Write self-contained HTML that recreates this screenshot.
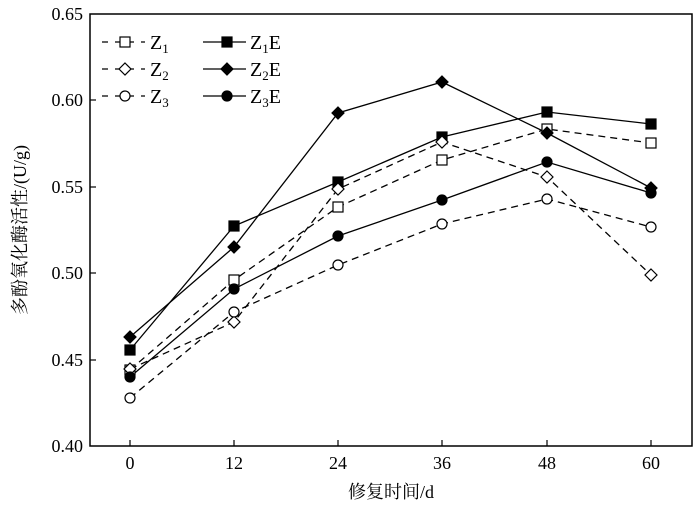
<!DOCTYPE html><html><head><style>body{margin:0;background:#fff}svg{display:block}</style></head><body>
<svg width="700" height="509" xmlns="http://www.w3.org/2000/svg" font-family="Liberation Serif, Noto Serif CJK SC, serif">
<rect x="90" y="14" width="602" height="432" fill="none" stroke="#000" stroke-width="1.5"/>
<g stroke="#000" stroke-width="1.2">
<line x1="130" y1="446" x2="130" y2="440"/><line x1="234" y1="446" x2="234" y2="440"/><line x1="338" y1="446" x2="338" y2="440"/><line x1="442" y1="446" x2="442" y2="440"/><line x1="547" y1="446" x2="547" y2="440"/><line x1="651" y1="446" x2="651" y2="440"/>
<line x1="90" y1="100" x2="96" y2="100"/><line x1="90" y1="187" x2="96" y2="187"/><line x1="90" y1="273" x2="96" y2="273"/><line x1="90" y1="360" x2="96" y2="360"/>
</g>
<g font-size="18" text-anchor="end">
<text x="83" y="20">0.65</text><text x="83" y="106">0.60</text><text x="83" y="193">0.55</text><text x="83" y="279">0.50</text><text x="83" y="366">0.45</text><text x="83" y="452">0.40</text></g>
<g font-size="18" text-anchor="middle">
<text x="130" y="469">0</text><text x="234" y="469">12</text><text x="338" y="469">24</text><text x="442" y="469">36</text><text x="547" y="469">48</text><text x="651" y="469">60</text>
<text x="391" y="498">修复时间/d</text>
<text transform="translate(26,230) rotate(-90)">多酚氧化酶活性/(U/g)</text></g>
<g fill="none" stroke="#000" stroke-width="1.3">
<polyline stroke-dasharray="7,5" points="130,370 234,280 338,207 442,160 547,129 651,143"/>
<polyline points="130,350 234,226 338,182 442,137 547,112 651,124"/>
<polyline stroke-dasharray="7,5" points="130,369 234,322 338,189 442,142 547,177 651,275"/>
<polyline points="130,337 234,247 338,113 442,82 547,133 651,188"/>
<polyline stroke-dasharray="7,5" points="130,398 234,312 338,265 442,224 547,199 651,227"/>
<polyline points="130,377 234,289 338,236 442,200 547,162 651,193"/>
<line x1="102" y1="42" x2="145" y2="42" stroke-dasharray="6,7"/><line x1="102" y1="69" x2="145" y2="69" stroke-dasharray="6,7"/><line x1="102" y1="96" x2="145" y2="96" stroke-dasharray="6,7"/>
<line x1="203" y1="42" x2="246" y2="42"/><line x1="203" y1="69" x2="246" y2="69"/><line x1="203" y1="96" x2="246" y2="96"/>
</g>
<g stroke="#000" stroke-width="1.2">
<g fill="#000"><rect x="125" y="345" width="10" height="10"/><rect x="229" y="221" width="10" height="10"/><rect x="333" y="177" width="10" height="10"/><rect x="437" y="132" width="10" height="10"/><rect x="542" y="107" width="10" height="10"/><rect x="646" y="119" width="10" height="10"/></g>
<g fill="#fff"><rect x="120" y="37" width="10" height="10"/><path d="M125,63 l6,6 -6,6 -6,-6z"/><circle cx="125" cy="96" r="5"/>
<rect x="125" y="365" width="10" height="10"/><rect x="229" y="275" width="10" height="10"/><rect x="333" y="202" width="10" height="10"/><rect x="437" y="155" width="10" height="10"/><rect x="542" y="124" width="10" height="10"/><rect x="646" y="138" width="10" height="10"/>
<path d="M130,363 l6,6 -6,6 -6,-6z M234,316 l6,6 -6,6 -6,-6z M338,183 l6,6 -6,6 -6,-6z M442,136 l6,6 -6,6 -6,-6z M547,171 l6,6 -6,6 -6,-6z M651,269 l6,6 -6,6 -6,-6z"/>
<circle cx="130" cy="398" r="5"/><circle cx="234" cy="312" r="5"/><circle cx="338" cy="265" r="5"/><circle cx="442" cy="224" r="5"/><circle cx="547" cy="199" r="5"/><circle cx="651" cy="227" r="5"/></g>
<g fill="#000"><rect x="222" y="37" width="10" height="10"/><path d="M227,63 l6,6 -6,6 -6,-6z"/><circle cx="227" cy="96" r="5"/>
<path d="M130,331 l6,6 -6,6 -6,-6z M234,241 l6,6 -6,6 -6,-6z M338,107 l6,6 -6,6 -6,-6z M442,76 l6,6 -6,6 -6,-6z M547,127 l6,6 -6,6 -6,-6z M651,182 l6,6 -6,6 -6,-6z"/>
<circle cx="130" cy="377" r="5"/><circle cx="234" cy="289" r="5"/><circle cx="338" cy="236" r="5"/><circle cx="442" cy="200" r="5"/><circle cx="547" cy="162" r="5"/><circle cx="651" cy="193" r="5"/></g>
</g>
<g font-size="20">
<text x="150" y="49">Z<tspan font-size="13" dy="4">1</tspan></text>
<text x="150" y="76">Z<tspan font-size="13" dy="4">2</tspan></text>
<text x="150" y="103">Z<tspan font-size="13" dy="4">3</tspan></text>
<text x="250" y="49">Z<tspan font-size="13" dy="4">1</tspan><tspan dy="-4">E</tspan></text>
<text x="250" y="76">Z<tspan font-size="13" dy="4">2</tspan><tspan dy="-4">E</tspan></text>
<text x="250" y="103">Z<tspan font-size="13" dy="4">3</tspan><tspan dy="-4">E</tspan></text>
</g>
</svg></body></html>
